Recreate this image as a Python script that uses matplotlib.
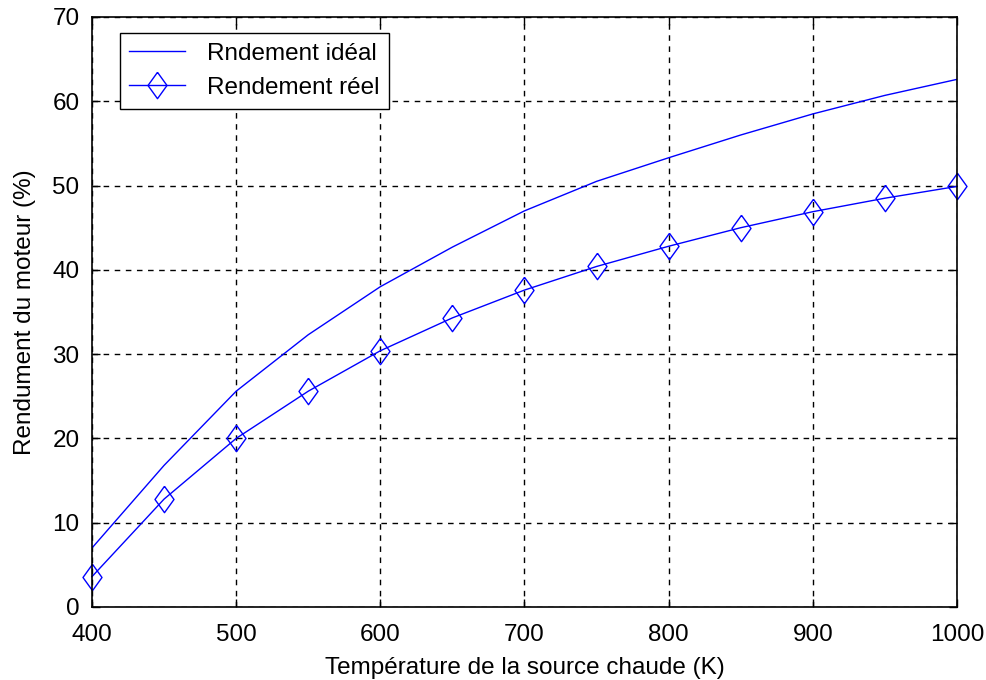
import matplotlib
matplotlib.use("Agg")
import matplotlib.pyplot as plt

# Hot-source temperature (K)
temperature = [400, 450, 500, 550, 600, 650, 700, 750, 800, 850, 900, 950, 1000]
# Ideal (Carnot) efficiency, %
rendement_ideal = [7.0, 16.8, 25.6, 32.3, 38.0, 42.7, 47.0, 50.5, 53.3, 56.0, 58.5, 60.7, 62.6]
# Measured efficiency, %
rendement_reel = [3.6, 12.8, 20.0, 25.6, 30.4, 34.3, 37.6, 40.4, 42.8, 45.0, 46.9, 48.5, 49.9]

xticks = [400, 500, 600, 700, 800, 900, 1000]
yticks = [0, 10, 20, 30, 40, 50, 60, 70]

plt.rcParams["font.family"] = ["Liberation Sans", "DejaVu Sans"]

fig = plt.figure(figsize=(9.87, 6.8), dpi=100)
ax = fig.add_axes([0.0932, 0.1074, 0.8764, 0.8676])

blue = "#0000ff"
# slightly flattened diamond marker
diamond = [(0, 1), (0.72, 0), (0, -1), (-0.72, 0), (0, 1)]

ax.plot(temperature, rendement_ideal, color=blue, lw=1.0, label="Rndement idéal")
ax.plot(temperature, rendement_reel, color=blue, lw=1.0, marker=diamond,
        markersize=19, markerfacecolor="none", markeredgecolor=blue,
        markeredgewidth=1.0, label="Rendement réel", clip_on=False)

ax.set_xlim(400, 1000)
ax.set_ylim(0, 70)
ax.set_xticks(xticks)
ax.set_yticks(yticks)
ax.tick_params(direction="in", top=True, right=True, length=6, width=1,
               labelsize=17.5, colors="black")
ax.tick_params(axis="x", pad=12)
ax.tick_params(axis="y", pad=9)
ax.grid(True, color="black", linestyle=(0, (4, 4)), linewidth=1.0)
for s in ax.spines.values():
    s.set_linewidth(1.2)
    s.set_color("black")

ax.set_xlabel("Température de la source chaude (K)", fontsize=17.5, labelpad=8)
ax.set_ylabel("Rendument du moteur (%)", fontsize=17.5, labelpad=12)

leg = ax.legend(loc="upper left", bbox_to_anchor=(0.032, 0.973), fontsize=17.5,
                frameon=True, fancybox=False, edgecolor="black",
                handlelength=2.3, borderpad=0.4, labelspacing=0.5,
                handletextpad=0.9, borderaxespad=0)
leg.get_frame().set_linewidth(1.0)
leg.get_frame().set_alpha(1)

fig.savefig("out.png", dpi=100)
